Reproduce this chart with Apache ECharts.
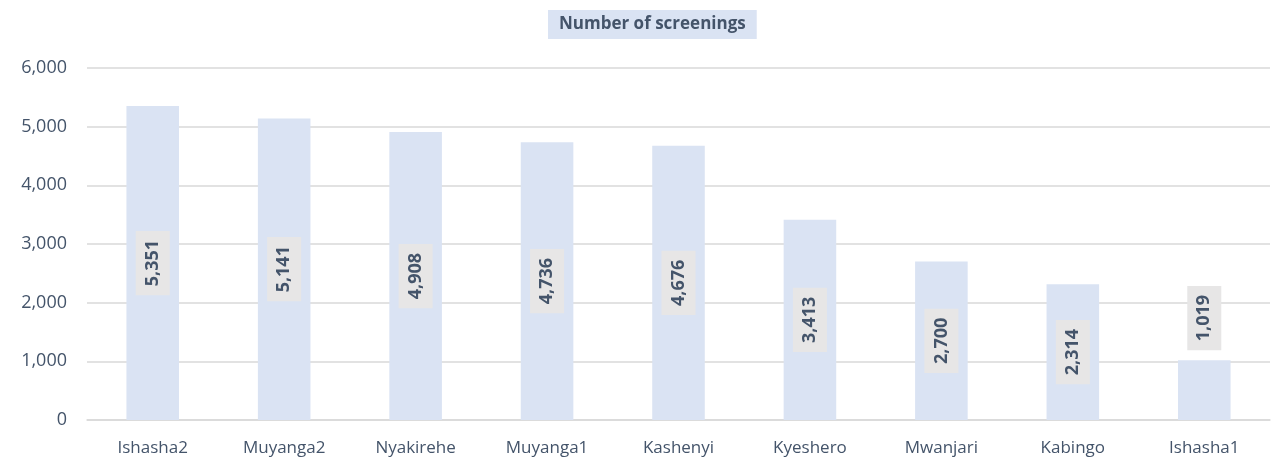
<!DOCTYPE html>
<html>
<head>
<meta charset="utf-8">
<script src="https://cdn.jsdelivr.net/npm/echarts@6/dist/echarts.min.js"></script>
<style>
  html, body { margin: 0; padding: 0; background: #fff; }
  #chart { width: 1272px; height: 462px; }
</style>
</head>
<body>
<div id="chart"></div>
<script>
const sites = ["Ishasha2", "Muyanga2", "Nyakirehe", "Muyanga1", "Kashenyi", "Kyeshero", "Mwanjari", "Kabingo", "Ishasha1"];
const screenings = [5351, 5141, 4908, 4736, 4676, 3413, 2700, 2314, 1019];
// labels sit inside the bar, except the short one which sits on top
const labelSpot = ["inside", "inside", "inside", "inside", "inside", "inside", "inside", "inside", "top"];

const textColor = "#44546a";
const font = "Open Sans";

const fmt = (v) => v.toLocaleString("en-US");

const option = {
  animation: false,
  title: {
    text: "Number of screenings",
    left: 548,
    top: 10,
    backgroundColor: "#dae3f3",
    padding: [6, 11, 6, 11],
    textStyle: { color: textColor, fontSize: 17, fontWeight: "bold", fontFamily: font }
  },
  grid: { left: 87, right: 2, top: 68, bottom: 42 },
  xAxis: {
    type: "category",
    data: sites,
    axisTick: { show: false },
    axisLine: { lineStyle: { color: "#d9d9d9", width: 1.5 } },
    axisLabel: { color: textColor, fontSize: 17, fontFamily: font, margin: 20 }
  },
  yAxis: {
    type: "value",
    min: 0,
    max: 6000,
    interval: 1000,
    axisLabel: { color: textColor, fontSize: 18, fontFamily: font, margin: 20, formatter: fmt },
    splitLine: { lineStyle: { color: "#d9d9d9", width: 1.5 } }
  },
  series: [{
    type: "bar",
    barWidth: "40%",
    data: screenings.map((v, i) => ({
      value: v,
      label: labelSpot[i] === "top"
        ? { position: "top", distance: 10, align: "left", verticalAlign: "middle" }
        : { position: "inside" }
    })),
    itemStyle: { color: "#dae3f3" },
    label: {
      show: true,
      rotate: 90,
      formatter: (p) => fmt(p.value),
      color: textColor,
      fontSize: 18,
      fontWeight: "bold",
      fontFamily: font,
      backgroundColor: "#e7e6e6",
      padding: [8, 9, 8, 9]
    }
  }]
};

const chart = echarts.init(document.getElementById("chart"));
chart.setOption(option);
window.addEventListener("resize", () => chart.resize());
</script>
</body>
</html>
